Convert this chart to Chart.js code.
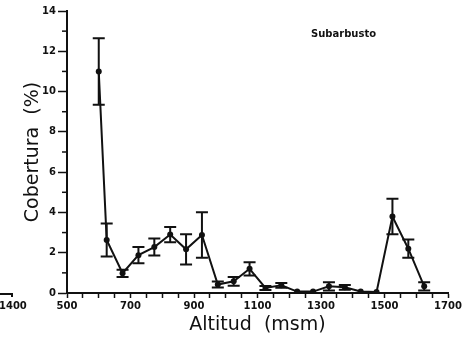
<!DOCTYPE html>
<html>
<head>
<meta charset="utf-8">
<script src="https://cdn.jsdelivr.net/npm/chart.js@4.4.1/dist/chart.umd.min.js"></script>
<style>
  html, body { margin: 0; padding: 0; background: #fff; }
  #wrap { position: relative; width: 464px; height: 337px; }
  #note { position: absolute; left: 311px; top: 28px; font: bold 10px "DejaVu Sans", sans-serif; color: #111; }
  #stub { position: absolute; left: 0; top: 293px; width: 13px; height: 4px; border-top: 2px solid #111; border-right: 2px solid #111; box-sizing: border-box; }
  #stubLbl { position: absolute; left: -1px; top: 300px; font: bold 10px "DejaVu Sans", sans-serif; color: #111; }
</style>
</head>
<body>
<div id="wrap">
  <canvas id="c" width="464" height="337"></canvas>
  <div id="note">Subarbusto</div>
  <div id="stub"></div>
  <div id="stubLbl">1400</div>
</div>
<script>
  // altitude (m) of each sampling point
  const altitudes = [600, 625, 675, 725, 775, 825, 875, 925, 975, 1025, 1075, 1125, 1175, 1225, 1275, 1325, 1375, 1425, 1475, 1525, 1575, 1625];
  // mean cover (%)
  const cover = [11.0, 2.63, 0.98, 1.88, 2.28, 2.9, 2.17, 2.88, 0.42, 0.58, 1.2, 0.25, 0.38, 0.07, 0.07, 0.33, 0.28, 0.07, 0.05, 3.8, 2.2, 0.33];
  // error (+/-)
  const coverErr = [1.65, 0.82, 0.18, 0.4, 0.42, 0.38, 0.75, 1.13, 0.15, 0.22, 0.33, 0.1, 0.12, 0, 0, 0.2, 0.12, 0, 0, 0.88, 0.45, 0.2];

  const xMin = 500, xMax = 1700, xLabelStep = 200;
  const yMin = 0, yMax = 14;

  const ink = "#111";
  const tickFont = { family: "DejaVu Sans", size: 10, weight: "bold" };
  const titleFont = { family: "DejaVu Sans", size: 19 };

  const errorBars = {
    id: "errorBars",
    afterDatasetsDraw(chart) {
      const { ctx, scales: { x, y } } = chart;
      ctx.save();
      ctx.strokeStyle = ink;
      ctx.lineWidth = 2;
      altitudes.forEach((a, i) => {
        const e = coverErr[i];
        if (!e) return;
        const px = x.getPixelForValue(a);
        const top = y.getPixelForValue(cover[i] + e);
        const bot = y.getPixelForValue(Math.max(0, cover[i] - e));
        ctx.beginPath();
        ctx.moveTo(px, top); ctx.lineTo(px, bot);
        ctx.moveTo(px - 6, top); ctx.lineTo(px + 6, top);
        ctx.moveTo(px - 6, bot); ctx.lineTo(px + 6, bot);
        ctx.stroke();
      });
      ctx.restore();
    }
  };

  // short minor ticks on the y axis
  const minorTicks = {
    id: "minorTicks",
    afterDraw(chart) {
      const { ctx, scales: { y } } = chart;
      ctx.save();
      ctx.strokeStyle = ink;
      ctx.lineWidth = 1.5;
      for (let v = yMin + 1; v < yMax; v += 2) {
        const py = y.getPixelForValue(v);
        ctx.beginPath();
        ctx.moveTo(y.right - 5, py); ctx.lineTo(y.right, py);
        ctx.stroke();
      }
      ctx.restore();
    }
  };

  new Chart(document.getElementById("c"), {
    type: "line",
    data: {
      datasets: [{
        data: altitudes.map((a, i) => ({ x: a, y: cover[i] })),
        borderColor: ink,
        borderWidth: 2,
        backgroundColor: ink,
        pointRadius: 3,
        pointBackgroundColor: ink,
        pointBorderWidth: 0,
        tension: 0
      }]
    },
    options: {
      responsive: false,
      animation: false,
      layout: { padding: { top: 11, right: 16, left: 0, bottom: 0 } },
      plugins: { legend: { display: false }, tooltip: { enabled: false } },
      scales: {
        x: {
          type: "linear",
          min: xMin, max: xMax,
          afterFit(s) { s.height = 44; },
          border: { color: ink, width: 2 },
          grid: { drawOnChartArea: false, tickLength: 5, tickColor: ink, tickWidth: 1.5 },
          ticks: {
            stepSize: 50, autoSkip: false, maxRotation: 0, padding: 2,
            color: ink, font: tickFont,
            callback: v => ((v - xMin) % xLabelStep === 0 ? String(v) : "")
          },
          title: { display: true, text: "Altitud  (msm)", color: ink, font: titleFont, padding: { top: 0, bottom: 1 } }
        },
        y: {
          min: yMin, max: yMax,
          afterFit(s) { s.width = 67; },
          border: { color: ink, width: 2 },
          grid: { drawOnChartArea: false, tickLength: 9, tickColor: ink, tickWidth: 1.5 },
          ticks: { stepSize: 2, padding: 2, color: ink, font: tickFont },
          title: { display: true, text: "Cobertura  (%)", color: ink, font: titleFont, padding: { top: 22, bottom: 0 } }
        }
      }
    },
    plugins: [errorBars, minorTicks]
  });
</script>
</body>
</html>
